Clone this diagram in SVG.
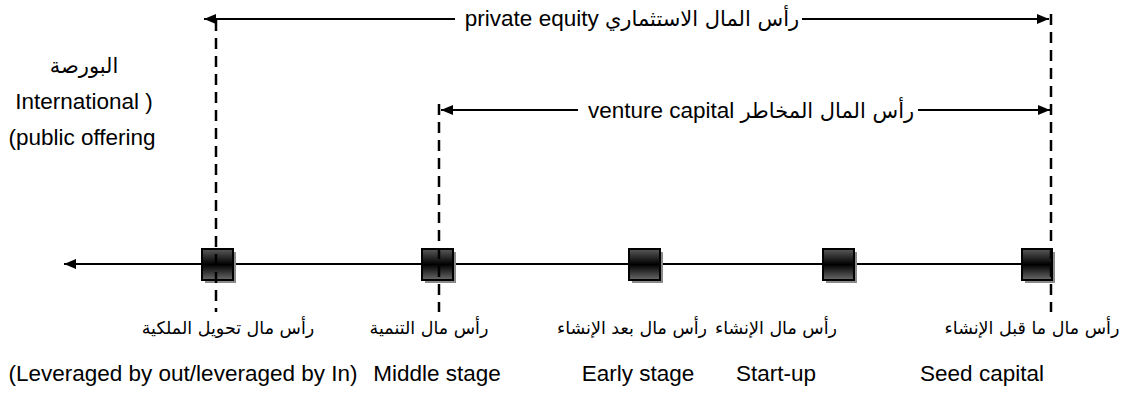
<svg xmlns="http://www.w3.org/2000/svg" width="1136" height="403" viewBox="0 0 1136 403">
<style>
text{font-family:"Liberation Sans","DejaVu Sans",sans-serif;font-size:22.5px;fill:#000}
.ar{font-family:"DejaVu Sans","Liberation Sans",sans-serif;font-size:17.5px}
.art{font-family:"DejaVu Sans","Liberation Sans",sans-serif;font-size:21px}
.ln{stroke:#000;stroke-width:2;fill:none}
.dash{stroke:#000;stroke-width:2.5;stroke-dasharray:11,7;fill:none}
.box{fill:url(#g);stroke:#000;stroke-width:2}
.sh{fill:#8a8a8a}
</style>
<defs>
<linearGradient id="g" x1="0" y1="0" x2="0" y2="1">
<stop offset="0" stop-color="#5a5a5a"/>
<stop offset="0.5" stop-color="#000"/>
<stop offset="1" stop-color="#6a6a6a"/>
</linearGradient>
<marker id="ah" viewBox="0 0 12 10" refX="12" refY="5" markerWidth="12" markerHeight="10" markerUnits="userSpaceOnUse" orient="auto-start-reverse">
<path d="M0,0 L12,5 L0,10 z" fill="#000"/>
</marker>
</defs>
<g id="connectors">
<line class="ln" x1="1040" y1="264" x2="64" y2="264" marker-end="url(#ah)"/>
<line class="ln" x1="455" y1="19" x2="204" y2="19" marker-end="url(#ah)"/>
<line class="ln" x1="802" y1="19" x2="1049" y2="19" marker-end="url(#ah)"/>
<line class="ln" x1="578" y1="110" x2="441" y2="110" marker-end="url(#ah)"/>
<line class="ln" x1="918" y1="110" x2="1050" y2="110" marker-end="url(#ah)"/>
</g>
<g id="node-leveraged">
<rect class="sh" x="205" y="252" width="31" height="31"/>
<rect class="box" x="202" y="249" width="31" height="31"/>
<text class="ar" x="228" y="334" text-anchor="middle" direction="rtl">رأس مال تحويل الملكية</text>
<text x="183" y="381" text-anchor="middle">(Leveraged by out/leveraged by In)</text>
</g>
<g id="node-middle">
<rect class="sh" x="425" y="252" width="31" height="31"/>
<rect class="box" x="422" y="249" width="31" height="31"/>
<text class="ar" x="429" y="334" text-anchor="middle" direction="rtl">رأس مال التنمية</text>
<text x="437" y="381" text-anchor="middle">Middle stage</text>
</g>
<g id="node-early">
<rect class="sh" x="632" y="252" width="31" height="31"/>
<rect class="box" x="629" y="249" width="31" height="31"/>
<text class="ar" x="632" y="334" text-anchor="middle" direction="rtl">رأس مال بعد الإنشاء</text>
<text x="638" y="381" text-anchor="middle">Early stage</text>
</g>
<g id="node-startup">
<rect class="sh" x="826" y="252" width="31" height="31"/>
<rect class="box" x="823" y="249" width="31" height="31"/>
<text class="ar" x="776" y="334" text-anchor="middle" direction="rtl">رأس مال الإنشاء</text>
<text x="776" y="381" text-anchor="middle">Start-up</text>
</g>
<g id="node-seed">
<rect class="sh" x="1025" y="252" width="30" height="31"/>
<rect class="box" x="1022" y="249" width="30" height="31"/>
<text class="ar" x="1032" y="334" text-anchor="middle" direction="rtl">رأس مال ما قبل الإنشاء</text>
<text x="982" y="381" text-anchor="middle">Seed capital</text>
</g>
<g id="guides">
<line class="dash" x1="216" y1="20" x2="216" y2="312"/>
<line class="dash" x1="439" y1="104" x2="439" y2="312"/>
<line class="dash" x1="1051" y1="14" x2="1051" y2="312"/>
</g>
<g id="label-private-equity">
<text x="632" y="26" text-anchor="middle" direction="rtl"><tspan class="art">رأس المال الاستثماري</tspan> private equity</text>
</g>
<g id="label-venture-capital">
<text x="751" y="118" text-anchor="middle" direction="rtl"><tspan class="art">رأس المال المخاطر</tspan> venture capital</text>
</g>
<g id="label-market">
<text class="art" x="84" y="73" text-anchor="middle" direction="rtl">البورصة</text>
<text x="84" y="109" text-anchor="middle">International )</text>
<text x="82" y="145" text-anchor="middle">(public offering</text>
</g>
</svg>
